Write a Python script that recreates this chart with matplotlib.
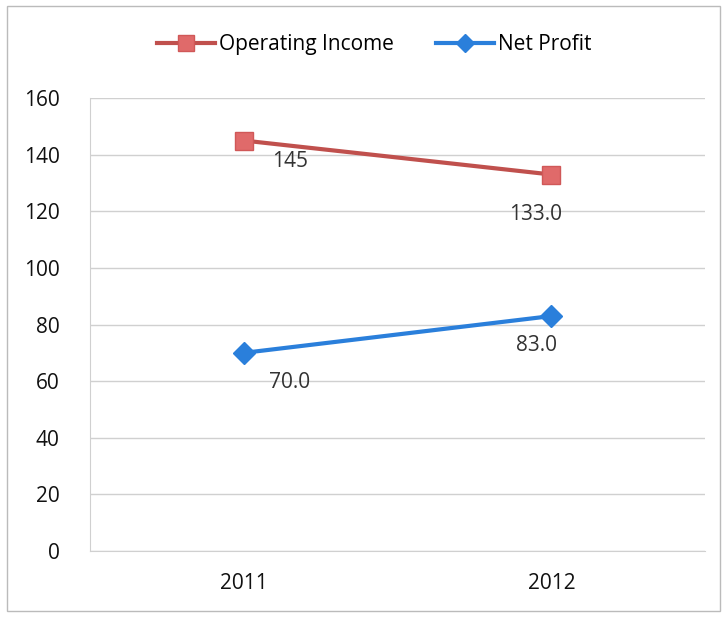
import matplotlib.pyplot as plt
from matplotlib.patches import Rectangle

years = ["2011", "2012"]
operating_income = [145, 133]
net_profit = [70, 83]
income_labels = ["145", "133.0"]
profit_labels = ["70.0", "83.0"]
y_ticks = [0, 20, 40, 60, 80, 100, 120, 140, 160]


def main():
    plt.rcParams['font.family'] = ['Open Sans', 'DejaVu Sans']
    fig = plt.figure(figsize=(7.27, 6.17), dpi=100)
    ax = fig.add_axes([0.124, 0.107, 0.846, 0.734])

    x = list(range(len(years)))
    ax.plot(x, operating_income, color="#C0504D", lw=3,
            marker="s", ms=13, mfc="#E06A6A", mec="#D05858",
            label="Operating Income", zorder=3)
    ax.plot(x, net_profit, color="#2A7FDB", lw=3,
            marker="D", ms=11, mfc="#2A7FDB", mec="#2A7FDB",
            label="Net Profit", zorder=3)

    # data labels sit just below each point
    offs_income = [7.5, 14]
    for i, (v, s) in enumerate(zip(operating_income, income_labels)):
        dx = 0.15 if i == 0 else -0.05
        ax.text(i + dx, v - offs_income[i], s, ha="center", va="center",
                fontsize=15, color="#333333")
    for i, (v, s) in enumerate(zip(net_profit, profit_labels)):
        dx = 0.15 if i == 0 else -0.05
        ax.text(i + dx, v - 10.5, s, ha="center", va="center",
                fontsize=15, color="#333333")

    ax.set_xlim(-0.5, 1.5)
    ax.set_ylim(0, 160)
    ax.set_yticks(y_ticks)
    ax.set_xticks(x)
    ax.set_xticklabels(years)
    ax.tick_params(axis="both", length=0, labelsize=15, colors="#111111")
    ax.tick_params(axis="y", pad=22)
    ax.tick_params(axis="x", pad=16)
    ax.grid(axis="y", color="#D0D0D0", lw=1)
    ax.set_axisbelow(True)
    for side in ["top", "right"]:
        ax.spines[side].set_visible(False)
    ax.spines["left"].set_color("#D0D0D0")
    ax.spines["bottom"].set_color("#D0D0D0")

    fig.legend(loc="center", bbox_to_anchor=(0.515, 0.928), ncol=2,
               frameon=False, fontsize=15, handlelength=2.8,
               columnspacing=2.0, handletextpad=0.2, markerscale=0.85)

    fig.patches.append(Rectangle((0.01, 0.01), 0.98, 0.98,
                                 transform=fig.transFigure, fill=False,
                                 edgecolor="#BBBBBB", lw=1))

    fig.savefig("out.png", dpi=100)
    plt.close()


if __name__ == "__main__":
    main()
